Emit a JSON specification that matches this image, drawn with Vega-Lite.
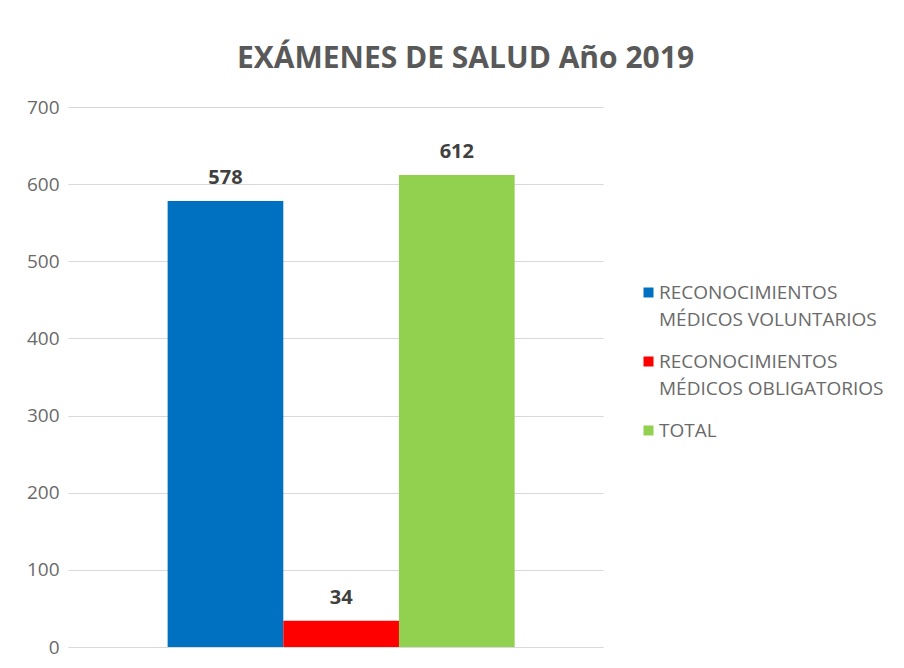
{
  "$schema": "https://vega.github.io/schema/vega-lite/v6.json",
  "width": 535,
  "height": 540,
  "autosize": {"type": "none"},
  "padding": {"left": 68, "top": 107, "right": 301, "bottom": 21},
  "background": "white",
  "title": {
    "text": "EXÁMENES DE SALUD Año 2019",
    "font": "Open Sans",
    "fontSize": 30,
    "fontWeight": "bold",
    "color": "#595959",
    "anchor": "middle",
    "dx": 130,
    "offset": 24
  },
  "data": {
    "values": [
      {"serie": "RECONOCIMIENTOS MÉDICOS VOLUNTARIOS", "valor": 578},
      {"serie": "RECONOCIMIENTOS MÉDICOS OBLIGATORIOS", "valor": 34},
      {"serie": "TOTAL", "valor": 612}
    ]
  },
  "encoding": {
    "x": {
      "field": "serie",
      "type": "nominal",
      "sort": null,
      "axis": null,
      "scale": {"paddingInner": 0, "paddingOuter": 0.8125, "align": 0.53}
    },
    "y": {
      "field": "valor",
      "type": "quantitative",
      "scale": {"domain": [0, 700]},
      "axis": {
        "values": [0, 100, 200, 300, 400, 500, 600, 700],
        "title": null,
        "domain": false,
        "ticks": false,
        "labelPadding": 9,
        "labelFont": "Open Sans",
        "labelFontSize": 19,
        "labelColor": "#6a6a6a",
        "gridColor": "#d9d9d9",
        "gridWidth": 1
      }
    }
  },
  "layer": [
    {
      "mark": {"type": "bar"},
      "encoding": {
        "color": {
          "field": "serie",
          "type": "nominal",
          "sort": null,
          "scale": {
            "domain": ["RECONOCIMIENTOS MÉDICOS VOLUNTARIOS", "RECONOCIMIENTOS MÉDICOS OBLIGATORIOS", "TOTAL"],
            "range": ["#0070C0", "#FF0000", "#92D050"]
          },
          "legend": {
            "title": null,
            "orient": "none",
            "legendX": 571,
            "legendY": 176,
            "symbolType": "square",
            "symbolSize": 100,
            "symbolStrokeWidth": 0,
            "labelFont": "Open Sans",
            "labelFontSize": 19,
            "labelColor": "#6a6a6a",
            "labelLimit": 320,
            "labelOffset": 1,
            "rowPadding": 22,
            "labelExpr": "indexof(datum.label, ' ') > 0 ? [substring(datum.label, 0, indexof(datum.label, ' ')), substring(datum.label, indexof(datum.label, ' ') + 1)] : datum.label"
          }
        }
      }
    },
    {
      "mark": {
        "type": "text",
        "baseline": "alphabetic",
        "dy": -17,
        "font": "Open Sans",
        "fontSize": 20,
        "fontWeight": "bold",
        "color": "#404040"
      },
      "encoding": {
        "text": {"field": "valor", "type": "quantitative"}
      }
    }
  ],
  "config": {
    "view": {"stroke": null},
    "style": {"guide-label": {"lineHeight": 27}}
  }
}
